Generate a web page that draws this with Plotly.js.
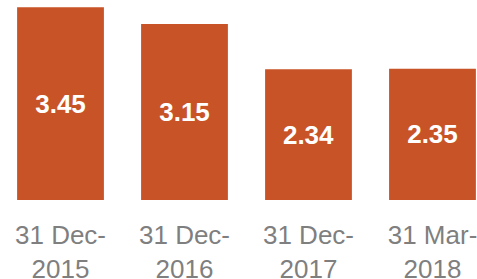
<!DOCTYPE html>
<html>
<head>
<meta charset="utf-8">
<script src="https://cdn.plot.ly/plotly-3.0.1.min.js"></script>
<style>html,body{margin:0;padding:0;background:#fff;}#chart{width:477px;height:279px;}</style>
</head>
<body>
<div id="chart"></div>
<script>
var categories = ["31 Dec-<br>2015", "31 Dec-<br>2016", "31 Dec-<br>2017", "31 Mar-<br>2018"];
var values = [3.45, 3.15, 2.34, 2.35];
var valueLabels = ["3.45", "3.15", "2.34", "2.35"];

var trace = {
  type: "bar",
  x: categories,
  y: values,
  text: valueLabels,
  textposition: "inside",
  insidetextanchor: "middle",
  textangle: 0,
  textfont: {family: "Liberation Sans, Arial, sans-serif", size: 26, color: "#ffffff", weight: "bold"},
  marker: {color: "#C85326"},
  width: 0.7,
  hoverinfo: "none"
};

var layout = {
  width: 477,
  height: 279,
  margin: {l: 0, r: 0, t: 0, b: 79, pad: 0},
  paper_bgcolor: "#ffffff",
  plot_bgcolor: "#ffffff",
  showlegend: false,
  bargap: 0.3,
  xaxis: {
    type: "category",
    range: [-0.488, 3.359],
    showgrid: false,
    zeroline: false,
    showline: false,
    ticks: "",
    ticklabelstandoff: 17,
    tickfont: {family: "Liberation Sans, Arial, sans-serif", size: 26, color: "#7F7F7F"},
    fixedrange: true
  },
  yaxis: {
    range: [0, 3.578],
    visible: false,
    showgrid: false,
    zeroline: false,
    fixedrange: true
  },
  font: {family: "Liberation Sans, Arial, sans-serif"}
};

Plotly.newPlot("chart", [trace], layout, {displayModeBar: false, staticPlot: true});
</script>
</body>
</html>
